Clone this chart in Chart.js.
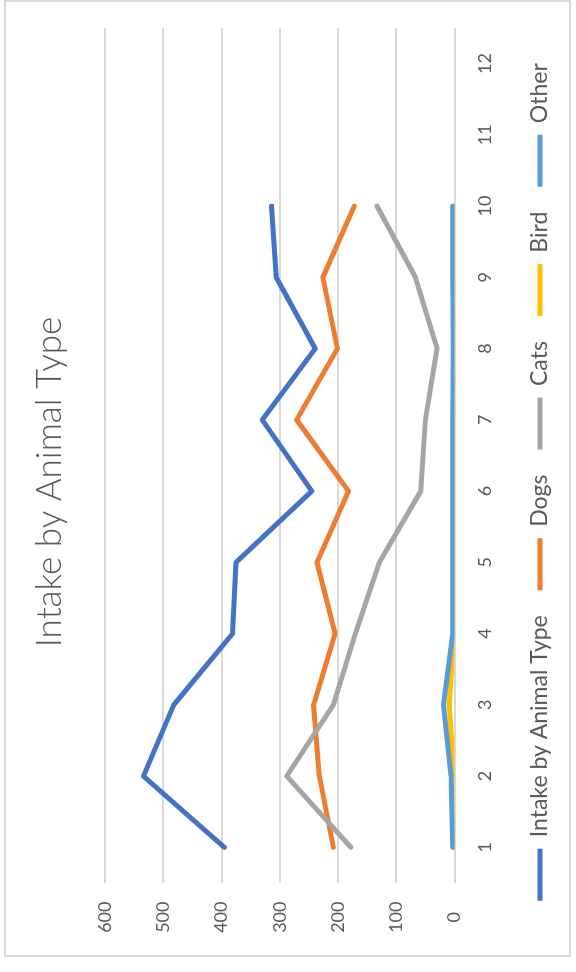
<!DOCTYPE html>
<html>
<head>
<meta charset="utf-8">
<script src="https://cdn.jsdelivr.net/npm/chart.js@4"></script>
<style>
  html, body { margin: 0; padding: 0; background: #ffffff; }
  body { width: 576px; height: 972px; position: relative; overflow: hidden; }
  #frame {
    position: absolute; left: 4px; top: 0px; width: 567px; height: 957px;
    border: 2px solid #d9d9d9; box-sizing: border-box;
  }
  #turn {
    position: absolute; left: 0; top: 0; width: 972px; height: 576px;
    transform-origin: 0 0; transform: translate(0, 972px) rotate(-90deg);
  }
  canvas { display: block; }
</style>
</head>
<body>
<div id="frame"></div>
<div id="turn"><canvas id="chart" width="972" height="576"></canvas></div>
<script>
// Monthly intake counts by animal type
const months = ['1', '2', '3', '4', '5', '6', '7', '8', '9', '10', '11', '12'];
const intakeTotal = [395, 534, 482, 381, 375, 245, 330, 239, 306, 314];
const dogs  = [208, 232, 242, 205, 236, 182, 271, 201, 226, 172];
const cats  = [178, 288, 208, 170, 129, 58, 50, 30, 67, 133];
const bird  = [0, 1, 9, 1, 0, 0, 0, 0, 0, 0];
const other = [3, 6, 19, 3, 3, 3, 3, 2, 3, 3];
const valueTicks = [0, 100, 200, 300, 400, 500, 600];

const TEXT = '#595959';
const GRID = '#d9d9d9';
const FONT = "Lato, 'Open Sans', sans-serif";

function series(label, data, color, order) {
  return {
    label, data, order,
    borderColor: color, backgroundColor: color,
    borderWidth: 5, borderCapStyle: 'round', borderJoinStyle: 'round',
    pointRadius: 0, pointHoverRadius: 0, tension: 0, fill: false
  };
}

new Chart(document.getElementById('chart'), {
  type: 'line',
  data: {
    labels: months,
    datasets: [
      series('Intake by Animal Type', intakeTotal, '#4472C4', 4),
      series('Dogs', dogs, '#ED7D31', 3),
      series('Cats', cats, '#A5A5A5', 2),
      series('Bird', bird, '#FFC000', 1),
      series('Other', other, '#5B9BD5', 0)
    ]
  },
  options: {
    responsive: false,
    animation: false,
    devicePixelRatio: 1,
    layout: { padding: { left: 36, right: 28, top: 4, bottom: 14.5 } },
    plugins: {
      tooltip: { enabled: false },
      title: {
        display: true,
        text: 'Intake by Animal Type',
        color: TEXT,
        font: { family: FONT, size: 35, weight: '300', lineHeight: 1.2 },
        padding: { top: 25, bottom: 34 }
      },
      legend: {
        position: 'bottom',
        labels: {
          color: TEXT,
          font: { family: FONT, size: 23 },
          usePointStyle: true,
          pointStyle: 'line',
          pointStyleWidth: 52,
          boxHeight: 23,
          padding: 25,
          sort: (a, b) => a.datasetIndex - b.datasetIndex
        }
      }
    },
    scales: {
      x: {
        type: 'category',
        offset: true,
        grid: { display: false, drawTicks: false },
        border: { display: false },
        ticks: { color: TEXT, font: { family: FONT, size: 18 }, padding: 19.5, maxRotation: 0, autoSkip: false },
        afterFit: (s) => { s.height = 49; }
      },
      y: {
        min: 0, max: 600,
        grid: { color: GRID, lineWidth: 2, drawTicks: false },
        border: { display: false },
        afterBuildTicks: (s) => { s.ticks = valueTicks.map(v => ({ value: v })); },
        ticks: { color: TEXT, font: { family: FONT, size: 18 }, padding: 18.5, crossAlign: 'center' },
        afterFit: (s) => { s.width = 53; }
      }
    }
  }
});
</script>
</body>
</html>
